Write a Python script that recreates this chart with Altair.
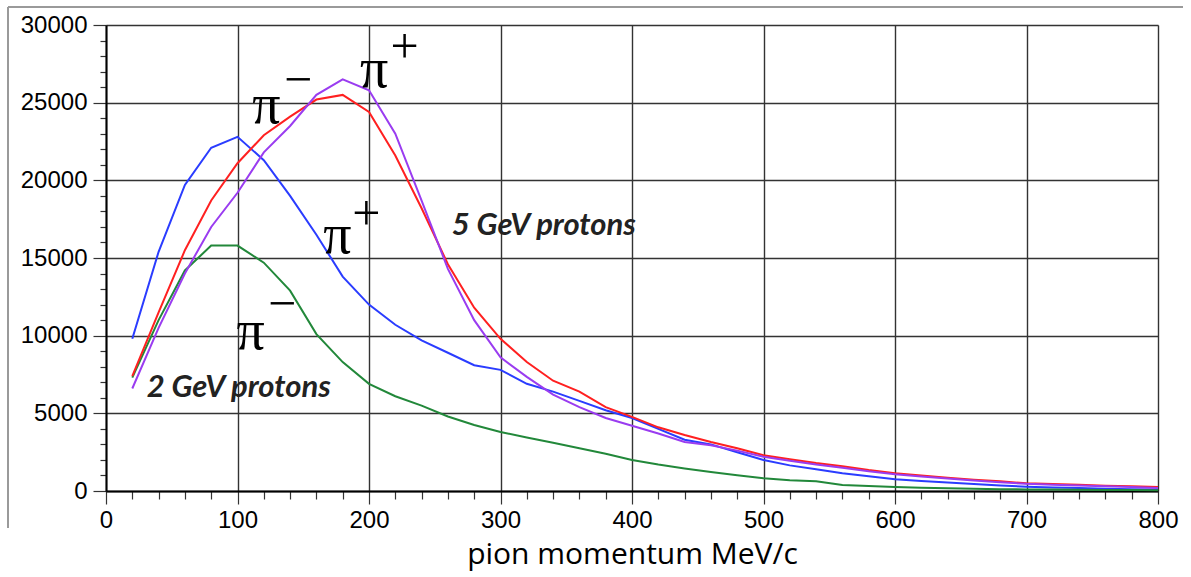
import altair as alt
import pandas as pd

momentum = list(range(20, 801, 20))

pi_plus_2gev = [9800, 15400, 19700, 22100, 22800, 21300, 19000, 16500, 13800, 12000,
                10700, 9700, 8900, 8100, 7800, 6900, 6400, 5800, 5200, 4700,
                4000, 3300, 3000, 2500, 2000, 1650, 1400, 1150, 950, 750,
                650, 550, 450, 350, 280, 230, 190, 150, 120, 100]
pi_minus_2gev = [7300, 11000, 14200, 15800, 15800, 14700, 12900, 10100, 8300, 6900,
                 6100, 5500, 4800, 4250, 3800, 3450, 3100, 2750, 2400, 2000,
                 1700, 1450, 1230, 1020, 820, 700, 620, 380, 320, 250,
                 210, 180, 150, 120, 100, 90, 80, 70, 60, 50]
pi_minus_5gev = [7400, 11500, 15500, 18700, 21100, 22900, 24100, 25200, 25500, 24400,
                 21600, 18200, 14600, 11800, 9800, 8300, 7100, 6400, 5400, 4770,
                 4100, 3600, 3150, 2750, 2300, 2050, 1800, 1600, 1350, 1150,
                 1000, 850, 720, 620, 500, 450, 400, 340, 300, 260]
pi_plus_5gev = [6600, 10500, 14000, 17000, 19200, 21800, 23500, 25500, 26500, 25800,
                23000, 18700, 14300, 11000, 8600, 7350, 6200, 5400, 4700, 4200,
                3700, 3150, 2950, 2600, 2200, 1950, 1700, 1500, 1270, 1080,
                930, 800, 680, 570, 460, 400, 350, 300, 250, 200]

series_names = ["pi+ 2 GeV", "pi- 2 GeV", "pi- 5 GeV", "pi+ 5 GeV"]
series_values = [pi_plus_2gev, pi_minus_2gev, pi_minus_5gev, pi_plus_5gev]
series_colors = ["#2a3cff", "#22883a", "#ff2020", "#9a3cf0"]

rows = []
for name, vals in zip(series_names, series_values):
    for m, v in zip(momentum, vals):
        rows.append({"momentum": m, "count": v, "series": name})
df = pd.DataFrame(rows)

# pi labels (glyph and charge sign) in data units
pi_x = [122, 204, 176, 110]
pi_y = [24800, 27100, 16400, 10250]
sign_text = ["\u2212", "+", "+", "\u2212"]
sign_x = [146, 227, 198, 134]
sign_y = [26400, 28500, 17800, 12000]

note_text = ["2 GeV protons", "5 GeV protons"]
note_x = [31, 263]
note_y = [6600, 17050]

x_ticks = list(range(0, 801, 20))
y_ticks = list(range(0, 30001, 1000))

x_scale = alt.Scale(domain=[0, 800], nice=False)
y_scale = alt.Scale(domain=[0, 30000], nice=False)

major_x = "datum.value % 100 === 0"
major_y = "datum.value % 5000 === 0"

x_axis = alt.Axis(
    values=x_ticks,
    tickCount=len(x_ticks),
    labelExpr="datum.value % 100 === 0 ? datum.label : ''",
    labelOverlap=False,
    format="d",
    title="pion momentum MeV/c",
    titleFont="Open Sans",
    titleFontSize=30,
    titleFontWeight="normal",
    titleColor="black",
    titlePadding=7,
    labelFont="Liberation Sans",
    labelFontSize=24,
    labelColor="black",
    labelPadding=4,
    labelFlush=False,
    domainColor="black",
    domainWidth=2,
    tickColor="#333333",
    tickWidth=1.2,
    tickSize={"condition": {"test": major_x, "value": 13}, "value": 8},
    grid=True,
    gridColor="#333333",
    gridWidth=1.4,
    gridOpacity={"condition": {"test": major_x, "value": 1}, "value": 0},
)
y_axis = alt.Axis(
    values=y_ticks,
    tickCount=len(y_ticks),
    labelExpr="datum.value % 5000 === 0 ? datum.label : ''",
    labelOverlap=False,
    format="d",
    title=None,
    labelFont="Liberation Sans",
    labelFontSize=24,
    labelColor="black",
    labelPadding=6,
    labelFlush=False,
    domainColor="black",
    domainWidth=2,
    tickColor="#333333",
    tickWidth=1.2,
    tickSize={"condition": {"test": major_y, "value": 13}, "value": 6},
    grid=True,
    gridColor="#333333",
    gridWidth=1.4,
    gridOpacity={"condition": {"test": major_y, "value": 1}, "value": 0},
)

lines = alt.Chart(df).mark_line(strokeWidth=2).encode(
    x=alt.X("momentum:Q", scale=x_scale, axis=x_axis),
    y=alt.Y("count:Q", scale=y_scale, axis=y_axis),
    color=alt.Color("series:N", scale=alt.Scale(domain=series_names, range=series_colors), legend=None),
    detail="series:N",
)

pi_df = pd.DataFrame({"x": pi_x, "y": pi_y})
pi_marks = alt.Chart(pi_df).mark_text(
    text="\u03c0", font="Liberation Serif", fontSize=56, color="black",
    align="center", baseline="middle"
).encode(x=alt.X("x:Q", scale=x_scale), y=alt.Y("y:Q", scale=y_scale))

sign_df = pd.DataFrame({"x": sign_x, "y": sign_y, "t": sign_text})
sign_marks = alt.Chart(sign_df).mark_text(
    font="Liberation Serif", fontSize=50, color="black",
    align="center", baseline="middle"
).encode(x=alt.X("x:Q", scale=x_scale), y=alt.Y("y:Q", scale=y_scale), text="t:N")

note_df = pd.DataFrame({"x": note_x, "y": note_y, "t": note_text})
note_marks = alt.Chart(note_df).mark_text(
    font="Lato", fontSize=31, fontWeight="bold", fontStyle="italic", color="#222222",
    align="left", baseline="middle"
).encode(x=alt.X("x:Q", scale=x_scale), y=alt.Y("y:Q", scale=y_scale), text="t:N")

frame_top = alt.Chart(pd.DataFrame({"k": [0]})).mark_rule(color="#9a9a9a", strokeWidth=2).encode(
    x=alt.value(-98), x2=alt.value(1077), y=alt.value(-18)
)
frame_left = alt.Chart(pd.DataFrame({"k": [0]})).mark_rule(color="#9a9a9a", strokeWidth=2).encode(
    x=alt.value(-98), y=alt.value(-18), y2=alt.value(503)
)

chart = alt.layer(lines, pi_marks, sign_marks, note_marks, frame_top, frame_left).properties(
    width=1052,
    height=466,
    autosize=alt.AutoSizeParams(type="none"),
    padding={"left": 106, "top": 25, "right": 33, "bottom": 86},
).configure_view(
    stroke="black", strokeWidth=2
).configure(background="white")

chart.save("out.html", embed_options={"renderer": "svg", "actions": False})
